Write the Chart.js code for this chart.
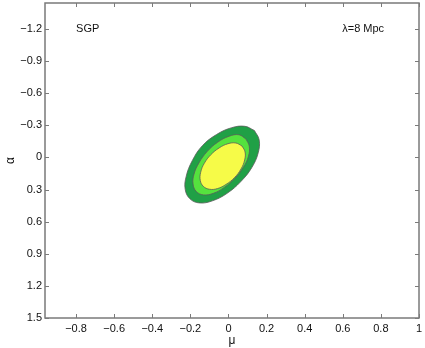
<!DOCTYPE html>
<html>
<head>
<meta charset="utf-8">
<script src="https://cdn.jsdelivr.net/npm/chart.js@4.4.0/dist/chart.umd.min.js"></script>
<style>
  html, body { margin:0; padding:0; background:#fff; }
  #wrap { width:425px; height:348px; }
</style>
</head>
<body>
<div id="wrap"><canvas id="c" width="425" height="348"></canvas></div>
<script>
// contour outlines (mu, alpha), outer to inner
const outerMu    = [0.136, 0.161, 0.156, 0.122, 0.065, -0.007, -0.084, -0.152, -0.202, -0.227, -0.222, -0.190, -0.137, -0.062, 0.017, 0.086, 0.136];
const outerAlpha = [-0.252, -0.165, -0.043, 0.096, 0.225, 0.335, 0.405, 0.425, 0.387, 0.300, 0.177, 0.030, -0.110, -0.215, -0.278, -0.291, -0.252];

const midMu    = [0.092, 0.109, 0.105, 0.078, 0.034, -0.022, -0.079, -0.131, -0.169, -0.186, -0.181, -0.155, -0.112, -0.057, 0.003, 0.055, 0.092];
const midAlpha = [-0.172, -0.105, -0.012, 0.092, 0.194, 0.280, 0.335, 0.350, 0.318, 0.248, 0.156, 0.051, -0.055, -0.142, -0.198, -0.212, -0.172];

const innerMu    = [0.071, 0.087, 0.085, 0.066, 0.032, -0.012, -0.058, -0.100, -0.132, -0.148, -0.146, -0.127, -0.093, -0.049, -0.003, 0.039, 0.071];
const innerAlpha = [-0.107, -0.052, 0.023, 0.107, 0.188, 0.251, 0.291, 0.297, 0.270, 0.215, 0.139, 0.055, -0.025, -0.089, -0.128, -0.135, -0.107];

// axis ticks
const muTicks    = [-0.8, -0.6, -0.4, -0.2, 0, 0.2, 0.4, 0.6, 0.8, 1];
const alphaTicks = [-1.2, -0.9, -0.6, -0.3, 0, 0.3, 0.6, 0.9, 1.2, 1.5];

function pts(xs, ys){ return xs.map((x,i)=>({x:x, y:ys[i]})); }
function fmt(v){
  const s = String(Math.round(v*10)/10);
  return s.replace('-', '\u2212');
}

const FONT = 'Liberation Sans, Arial, Helvetica, sans-serif';

// frame, inward ticks and the two text notes
const framePlugin = {
  id: 'frame',
  afterDatasetsDraw(chart){
    const {ctx, chartArea:a, scales} = chart;
    const xs = scales.x, ys = scales.y;
    ctx.save();
    ctx.strokeStyle = '#7a7a7a';
    ctx.lineWidth = 1.5;
    ctx.strokeRect(a.left, a.top, a.right - a.left, a.bottom - a.top);
    ctx.lineWidth = 1;
    ctx.beginPath();
    for(const v of muTicks){
      const px = Math.round(xs.getPixelForValue(v)) + 0.5;
      ctx.moveTo(px, a.bottom); ctx.lineTo(px, a.bottom - 4);
      ctx.moveTo(px, a.top); ctx.lineTo(px, a.top + 4);
    }
    for(const v of alphaTicks){
      const py = Math.round(ys.getPixelForValue(v)) + 0.5;
      ctx.moveTo(a.left, py); ctx.lineTo(a.left + 4, py);
      ctx.moveTo(a.right, py); ctx.lineTo(a.right - 4, py);
    }
    ctx.stroke();
    ctx.fillStyle = '#111';
    ctx.font = '11px ' + FONT;
    ctx.textBaseline = 'middle';
    ctx.textAlign = 'left';
    ctx.fillText('SGP', xs.getPixelForValue(-0.8), ys.getPixelForValue(-1.2));
    ctx.fillText('\u03bb=8 Mpc', xs.getPixelForValue(0.597), ys.getPixelForValue(-1.2));
    ctx.restore();
  }
};

const ds = (label, xs, ys, fillCol, order) => ({
  label: label,
  data: pts(xs, ys),
  showLine: true,
  fill: 'shape',
  backgroundColor: fillCol,
  borderColor: '#5a5a5a',
  borderWidth: 0.8,
  pointRadius: 0,
  tension: 0.4,
  order: order
});

new Chart(document.getElementById('c').getContext('2d'), {
  type: 'scatter',
  data: {
    datasets: [
      ds('outer', outerMu, outerAlpha, '#20a046', 3),
      ds('middle', midMu, midAlpha, '#55e23e', 2),
      ds('inner', innerMu, innerAlpha, '#f6fb48', 1)
    ]
  },
  options: {
    responsive: false,
    animation: false,
    layout: { padding: { top: 3, right: 6, left: 0, bottom: 0 } },
    plugins: { legend: { display: false }, tooltip: { enabled: false } },
    scales: {
      x: {
        type: 'linear',
        min: -0.963, max: 1,
        grid: { display: false, drawTicks: false },
        border: { display: false },
        afterBuildTicks: s => { s.ticks = muTicks.map(v => ({value: v})); },
        afterFit: s => { s.height = 30; s.paddingLeft = 0; s.paddingRight = 0; },
        ticks: { padding: 4, color: '#111', font: { family: FONT, size: 11 }, callback: v => fmt(v), maxRotation: 0, autoSkip: false },
        title: { display: true, text: '\u03bc', color: '#111', font: { family: FONT, size: 12 }, padding: { top: -3, bottom: 0 } }
      },
      y: {
        type: 'linear',
        reverse: true,
        min: -1.443, max: 1.5,
        grid: { display: false, drawTicks: false },
        border: { display: false },
        afterBuildTicks: s => { s.ticks = alphaTicks.map(v => ({value: v})); },
        afterFit: s => { s.width = 45; s.paddingTop = 0; s.paddingBottom = 0; },
        ticks: { padding: 3, color: '#111', font: { family: FONT, size: 11 }, callback: v => fmt(v), autoSkip: false },
        title: { display: true, text: '\u03b1', color: '#111', font: { family: FONT, size: 12 }, padding: { top: 3, bottom: 0 } }
      }
    }
  },
  plugins: [framePlugin]
});
</script>
</body>
</html>
